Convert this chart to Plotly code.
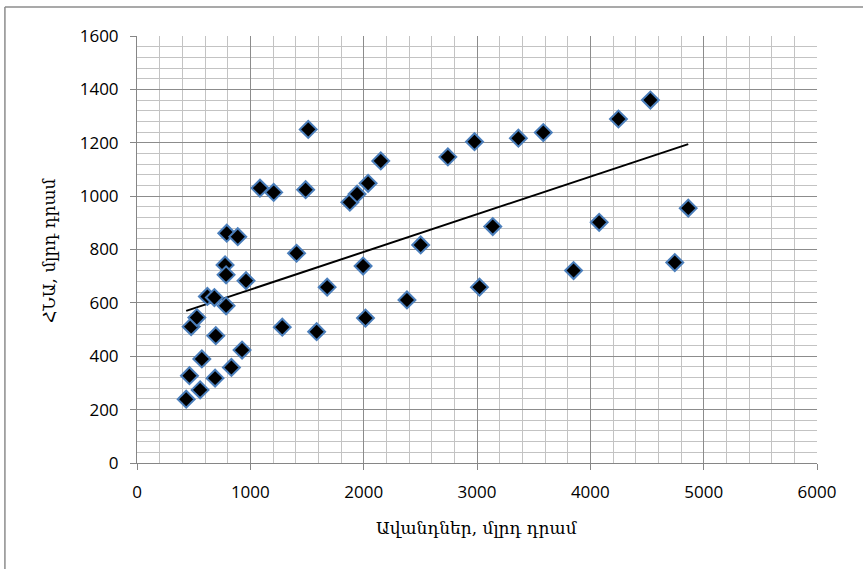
import numpy as np
import plotly.graph_objects as go

# Deposits (x) and GDP (y), billion AMD
deposits = [434, 557, 463, 689, 833, 572, 927, 695, 478, 528,
            1282, 1585, 2016, 2382, 621, 683, 786, 962, 1678, 777,
            786, 1995, 1408, 2503, 1511, 1085, 1206, 1488, 1878, 1942,
            2039, 2151, 2743, 2978, 3365, 3585, 4248, 4530, 3139, 4078,
            4864, 3022, 3852, 4745, 792, 889]
gdp = [239, 274, 327, 318, 358, 390, 423, 477, 511, 545,
       509, 492, 543, 611, 624, 620, 589, 683, 659, 742,
       705, 738, 786, 817, 1250, 1030, 1014, 1024, 977, 1008,
       1048, 1132, 1147, 1204, 1217, 1238, 1289, 1360, 886, 902,
       955, 659, 721, 751, 861, 848]

x_title = "Ավանդներ, մլրդ դրամ"
y_title = "ՀՆԱ, մլրդ դրամ"
x_ticks = [0, 1000, 2000, 3000, 4000, 5000, 6000]
y_ticks = [0, 200, 400, 600, 800, 1000, 1200, 1400, 1600]

# Linear trend line (least squares), spanning the data range
slope, intercept = np.polyfit(deposits, gdp, 1)
tx = [min(deposits), max(deposits)]
ty = [slope * v + intercept for v in tx]

fig = go.Figure()
fig.add_trace(go.Scatter(
    x=tx, y=ty, mode="lines",
    line=dict(color="black", width=2), hoverinfo="skip", showlegend=False))
fig.add_trace(go.Scatter(
    x=deposits, y=gdp, mode="markers",
    marker=dict(symbol="diamond", size=13, color="black",
                line=dict(color="#4a7ebb", width=2)),
    showlegend=False))

W, H = 863, 569
L, R, T, B = 136.7, 817.3, 35.7, 463.3
pw, ph = R - L, B - T

axis_common = dict(
    showline=True, linecolor="#868686", linewidth=1,
    ticks="outside", ticklen=6, tickcolor="#868686", tickwidth=1,
    showgrid=True, gridcolor="#8c8c8c", gridwidth=1.2,
    zeroline=False,
    tickfont=dict(family="Open Sans", size=17, color="black"),
)

fig.update_layout(
    width=W, height=H,
    margin=dict(l=L, r=W - R, t=T, b=H - B),
    paper_bgcolor="white", plot_bgcolor="white",
    xaxis=dict(range=[0, 6000], tickvals=x_ticks,
               minor=dict(dtick=200, showgrid=True, gridcolor="#c3c3c3", gridwidth=1.2, ticks=""),
               ticklabelstandoff=8, **axis_common),
    yaxis=dict(range=[0, 1600], tickvals=y_ticks,
               minor=dict(dtick=40, showgrid=True, gridcolor="#c3c3c3", gridwidth=1.2, ticks=""),
               ticklabelstandoff=8, **axis_common),
)

fig.add_annotation(
    text=x_title, xref="paper", yref="paper",
    x=(477.5 - L) / pw, y=(B - 528) / ph, xanchor="center", yanchor="middle",
    showarrow=False, font=dict(family="DejaVu Serif", size=17, color="black"))
fig.add_annotation(
    text=y_title, xref="paper", yref="paper", textangle=-90,
    x=(48 - L) / pw, y=0.5, xanchor="center", yanchor="middle",
    showarrow=False, font=dict(family="DejaVu Serif", size=17, color="black"))

bx = (4.5 - L) / pw
by = (B - 6.7) / ph
fig.add_shape(type="line", xref="paper", yref="paper",
              x0=bx, y0=-1, x1=bx, y1=by, line=dict(color="#8c8c8c", width=1.5))
fig.add_shape(type="line", xref="paper", yref="paper",
              x0=bx, y0=by, x1=2, y1=by, line=dict(color="#8c8c8c", width=1.5))

fig.write_html("out.html", config={"displayModeBar": False},
               post_script="document.body.style.margin='0';document.body.style.overflow='hidden';")
